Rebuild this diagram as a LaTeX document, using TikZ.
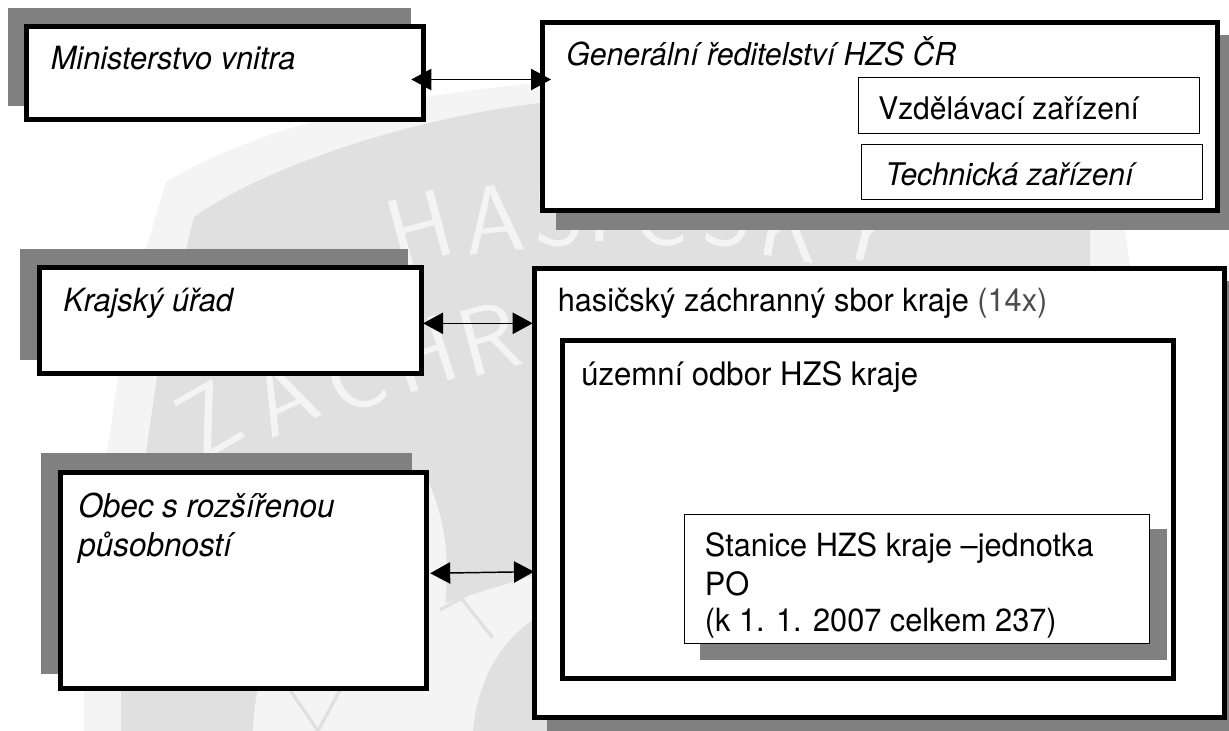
\documentclass[tikz,border=0pt]{standalone}
\usepackage{fontspec}
\setmainfont[FakeStretch=0.96]{TeX Gyre Heros}
\usetikzlibrary{arrows.meta}
\definecolor{shadowgrey}{HTML}{808080}
\definecolor{markdark}{HTML}{E0E0E0}
\definecolor{marklight}{HTML}{F4F4F4}
\tikzset{
  boxsize/.style 2 args={minimum width=#1*0.75pt,minimum height=#2*0.75pt},
  thickbox/.style={draw=black,fill=white,line width=4pt,anchor=north west,inner sep=0pt},
  thinbox/.style={draw=black,fill=white,line width=1pt,anchor=north west,inner sep=0pt},
  boxtext/.style={anchor=base west,inner sep=0pt,font=\fontsize{24}{28.5}\selectfont},
  boxital/.style={boxtext,font=\fontsize{24}{28.5}\selectfont\itshape},
  markletter/.style={text=marklight,inner sep=0pt,text height=36pt,text depth=0pt,font=\sffamily\fontsize{72}{74}\selectfont},
  biarrow/.style={{Triangle[length=15pt,width=16pt]}-{Triangle[length=15pt,width=16pt]},line width=1.1pt},
}
\begin{document}
\begin{tikzpicture}[x=0.75pt,y=0.75pt,yscale=-1,xscale=1]
\useasboundingbox (0,0) rectangle (1229,731);
\fill [marklight] (146,249) -- (166,182) .. controls (260,125) and (400,95) .. (540,83) -- (900,90) -- (1125,230) -- (1130,265) -- (1130,731) -- (84,731) -- (84,690) -- (107,453) -- (119,370) -- cycle;
\fill [markdark] (186,249) -- (194,217) .. controls (260,170) and (400,120) .. (540,103) -- (1090,120) -- (1090,731) -- (121,731) -- (121,690) -- (146,453) -- (158,370) -- cycle;
\fill [marklight] (253,731) .. controls (255,650) and (300,560) .. (429,483) .. controls (445,520) and (450,560) .. (445,603) -- (532,576) -- (540,731) -- cycle;
\fill [markdark] (473,731) .. controls (478,680) and (500,640) .. (540,615) -- (540,731) -- cycle;
\draw [markdark,line width=2.5pt] (453,588) -- (493,638);
\draw [markdark,line width=2.5pt] (493,580) -- (440,610);
\draw [markdark,line width=2.5pt] (318,731) -- (290,690);
\draw [markdark,line width=2.5pt] (318,731) -- (340,690);
\node [markletter,rotate=15] (mark1) at (422,237) {H};
\node [markletter,rotate=6] (mark2) at (495,228) {A};
\node [markletter] (mark3) at (560,222) {S};
\node [markletter] (mark4) at (600,218) {I};
\node [markletter] (mark5) at (660,222) {Č};
\node [markletter] (mark6) at (727,222) {S};
\node [markletter,rotate=-10] (mark7) at (790,235) {K};
\node [markletter,rotate=-14] (mark8) at (865,237) {Ý};
\node [markletter,rotate=30] (mark9) at (213,428) {Z};
\node [markletter,rotate=25] (mark10) at (288,405) {Á};
\node [markletter,rotate=20] (mark11) at (358,385) {C};
\node [markletter,rotate=18] (mark12) at (426,363) {H};
\node [markletter,rotate=15] (mark13) at (491,348) {R};
\fill [shadowgrey] (8,8) rectangle (411,106);
\fill [shadowgrey] (555.5,35) rectangle (1229,230);
\fill [shadowgrey] (20,248.7) rectangle (408,360);
\fill [shadowgrey] (41,452.7) rectangle (412,674);
\fill [shadowgrey] (547,281) rectangle (1229,731);
\node [thickbox,boxsize={397}{93}] (mv) at (24,24) {};
\node [thickbox,boxsize={675}{188}] (gr) at (540,20) {};
\node [thinbox,boxsize={341}{56}] (vz) at (858,77) {};
\node [thinbox,boxsize={341}{55}] (tz) at (860.5,144) {};
\node [thickbox,boxsize={382}{106}] (ku) at (36.5,265) {};
\node [thickbox,boxsize={366}{216}] (orp) at (57.5,469.5) {};
\node [thickbox,boxsize={690}{449}] (hzs) at (532,266) {};
\node [thickbox,boxsize={611}{338}] (uo) at (560,338) {};
\fill [shadowgrey] (700,528.7) rectangle (1167,660);
\node [thinbox,boxsize={465}{129}] (st) at (684,514) {};
\node [boxital] (mvtext) at (50.6,70) {Ministerstvo vnitra};
\node [boxital,font=\fontsize{23.65}{28.5}\selectfont\itshape] (grtext) at (566,65.7) {Generální ředitelství HZS ČR};
\node [boxtext,font=\fontsize{23.4}{28.5}\selectfont] (vztext) at (878,120) {Vzdělávací zařízení};
\node [boxital,font=\fontsize{23.4}{28.5}\selectfont\itshape] (tztext) at (885,186) {Technická zařízení};
\node [boxital] (kutext) at (63,311.7) {Krajský úřad};
\node [boxtext] (hzstext) at (557.5,311.7) {hasičský záchranný sbor kraje {\color{black!70}(14x)}};
\node [boxtext,font=\fontsize{24.3}{28.5}\selectfont] (uotext) at (581,385) {územní odbor HZS kraje};
\node [boxital,font=\fontsize{24.6}{28.5}\selectfont\itshape] (orptext1) at (78,517.7) {Obec s rozšířenou};
\node [boxital,font=\fontsize{24.6}{28.5}\selectfont\itshape] (orptext2) at (78,556.7) {působností};
\node [boxtext] (sttext1) at (704.7,556) {Stanice HZS kraje –jednotka};
\node [boxtext] (sttext2) at (704.7,595) {PO};
\node [boxtext] (sttext3) at (704.7,631.7) {(k 1. 1. 2007 celkem 237)};
\draw [biarrow,shorten <=-11.25pt,shorten >=-8.25pt] (mv.east |- 0,79.5) -- (gr.west |- 0,79.5);
\draw [biarrow,shorten <=-0.5pt,shorten >=-0.5pt] (ku.east |- 0,323.3) -- (hzs.west |- 0,323.3);
\draw [biarrow,shorten <=1pt,shorten >=-1.5pt] (orp.east |- 0,573.3) -- (hzs.west |- 0,571.7);
\end{tikzpicture}
\end{document}
